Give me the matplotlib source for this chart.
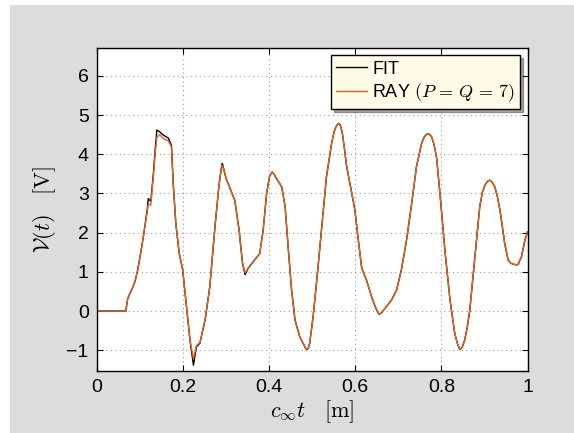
import matplotlib
matplotlib.use("Agg")
import matplotlib.pyplot as plt
from matplotlib.patches import Rectangle

plt.rcParams['font.family'] = ['Liberation Sans', 'DejaVu Sans']
plt.rcParams['mathtext.fontset'] = 'cm'

# sampled positions c_inf * t [m]
x = [0.0, 0.067, 0.071, 0.075, 0.082, 0.088, 0.094, 0.1, 0.106, 0.111, 0.117,
     0.119, 0.125, 0.131, 0.135, 0.139,
     0.146, 0.154, 0.166, 0.173, 0.177, 0.183, 0.191, 0.199, 0.208, 0.216,
     0.224, 0.231, 0.239, 0.251, 0.262, 0.274, 0.283, 0.288, 0.291, 0.295,
     0.3, 0.309,
     0.32, 0.33, 0.338, 0.344, 0.351, 0.363, 0.378, 0.386, 0.394, 0.401, 0.407,
     0.412, 0.417, 0.429, 0.437, 0.444, 0.452, 0.46, 0.471, 0.481, 0.484, 0.487,
     0.491, 0.494,
     0.502, 0.512, 0.522, 0.533, 0.545, 0.551, 0.555, 0.559, 0.562, 0.566, 0.57,
     0.575, 0.58, 0.589,
     0.599, 0.607, 0.615, 0.626, 0.638, 0.646, 0.651, 0.655, 0.661, 0.669, 0.684,
     0.696,
     0.707, 0.719, 0.731, 0.742, 0.754, 0.76, 0.764, 0.768, 0.772, 0.777, 0.781,
     0.785, 0.789, 0.798,
     0.808, 0.82, 0.831, 0.838, 0.843, 0.848, 0.854, 0.86, 0.866, 0.878, 0.889,
     0.895, 0.901, 0.907, 0.912, 0.918,
     0.924, 0.93, 0.936, 0.947, 0.955, 0.961, 0.967, 0.973, 0.978, 0.986, 0.994,
     1.0]

# FIT signal [V]
fit = [0.0, 0.0, 0.3, 0.41, 0.58, 0.75, 1.02, 1.39, 1.78, 2.15, 2.62,
       2.87, 2.8, 3.51, 4.1, 4.62,
       4.57, 4.49, 4.41, 4.22, 3.26, 2.24, 1.47, 1.05, 0.11, -0.74,
       -1.38, -0.91, -0.82, -0.23, 0.62, 2.15, 3.17, 3.6, 3.77, 3.6,
       3.38, 3.13,
       2.83, 2.07, 1.22, 0.93, 1.09, 1.26, 1.47, 2.07, 3.0, 3.45, 3.55,
       3.48, 3.38, 3.17, 2.66, 1.64, 0.54, -0.23, -0.66, -0.87, -0.94, -0.98,
       -0.94, -0.82,
       -0.14, 0.96, 2.15, 3.43, 4.28, 4.58, 4.7, 4.77, 4.79, 4.72, 4.53,
       4.12, 3.68, 3.17,
       2.58, 1.81, 1.09, 0.79, 0.36, 0.12, 0.0, -0.08, -0.04, 0.07, 0.28,
       0.54,
       1.05, 1.81, 2.75, 3.68, 4.28, 4.44, 4.49, 4.52, 4.51, 4.45, 4.32,
       4.14, 3.9, 2.83,
       1.56, 0.28, -0.57, -0.86, -0.98, -0.93, -0.74, -0.42, 0.03, 1.39, 2.66,
       3.02, 3.21, 3.31, 3.34, 3.29,
       3.17, 2.92, 2.58, 1.73, 1.3, 1.22, 1.2, 1.18, 1.19, 1.39, 1.81,
       2.02]

# RAY (P = Q = 7) signal [V]
ray = [0.0, 0.0, 0.3, 0.41, 0.58, 0.75, 1.02, 1.39, 1.78, 2.15, 2.55,
       2.72, 2.7, 3.45, 4.0, 4.44,
       4.5, 4.4, 4.34, 4.18, 3.26, 2.24, 1.47, 1.05, 0.11, -0.74,
       -1.22, -0.88, -0.8, -0.23, 0.62, 2.15, 3.17, 3.57, 3.72, 3.58,
       3.38, 3.13,
       2.83, 2.07, 1.22, 0.98, 1.09, 1.26, 1.47, 2.07, 3.0, 3.45, 3.55,
       3.48, 3.38, 3.17, 2.66, 1.64, 0.54, -0.23, -0.66, -0.87, -0.93, -0.97,
       -0.93, -0.82,
       -0.14, 0.96, 2.15, 3.43, 4.28, 4.58, 4.7, 4.77, 4.79, 4.72, 4.53,
       4.12, 3.68, 3.17,
       2.58, 1.81, 1.09, 0.79, 0.36, 0.12, 0.0, -0.07, -0.04, 0.07, 0.28,
       0.54,
       1.05, 1.81, 2.75, 3.68, 4.28, 4.44, 4.49, 4.52, 4.51, 4.45, 4.32,
       4.14, 3.9, 2.83,
       1.56, 0.28, -0.57, -0.86, -0.97, -0.93, -0.74, -0.42, 0.03, 1.39, 2.66,
       3.02, 3.21, 3.31, 3.34, 3.29,
       3.17, 2.92, 2.58, 1.73, 1.3, 1.22, 1.2, 1.18, 1.19, 1.39, 1.81,
       2.02]

xticks = [0, 0.2, 0.4, 0.6, 0.8, 1]
xtick_labels = ['0', '0.2', '0.4', '0.6', '0.8', '1']
yticks = [-1, 0, 1, 2, 3, 4, 5, 6]
ytick_labels = ['\u22121', '0', '1', '2', '3', '4', '5', '6']

fig = plt.figure(figsize=(5.74, 4.33), dpi=100, facecolor='white')
# grey panel behind the axes
bg = Rectangle((10 / 574, 0), 1, 1 - 5 / 433, transform=fig.transFigure,
               facecolor='#dcdcdf', edgecolor='none', zorder=-10)
fig.add_artist(bg)

ax = fig.add_axes([0.169, 0.143, 0.75, 0.746])
ax.set_zorder(1)
ax.plot(x, fit, color='black', lw=1.0, label='FIT')
ax.plot(x, ray, color='#e8601c', lw=1.0, label=r'RAY $(P\,=\,Q\,=\,7)$')

ax.set_xlim(0, 1)
ax.set_ylim(-1.53, 6.71)
ax.set_xticks(xticks)
ax.set_xticklabels(xtick_labels)
ax.set_yticks(yticks)
ax.set_yticklabels(ytick_labels)
ax.tick_params(direction='in', length=4, width=0.8, top=True, right=True,
               labelsize=14, pad=6)
ax.grid(True, linestyle=(0, (1, 3)), color='#999999', lw=0.8)
for s in ax.spines.values():
    s.set_linewidth(1.0)

ax.set_xlabel(r'$c_\infty t\quad[\mathrm{m}]$', fontsize=16, labelpad=1)
ax.set_ylabel(r'$\mathcal{V}(t)\quad[\mathrm{V}]$', fontsize=16, labelpad=6)

leg = ax.legend(loc='upper right', fontsize=13, fancybox=False, shadow=True,
                framealpha=1, edgecolor='black', handlelength=1.7,
                borderaxespad=0.4, handletextpad=0.3, labelspacing=0.2,
                borderpad=0.3)
leg.get_frame().set_facecolor('#fffbe6')
leg.get_frame().set_linewidth(1.0)

fig.savefig('out.png', dpi=100, facecolor=fig.get_facecolor())
